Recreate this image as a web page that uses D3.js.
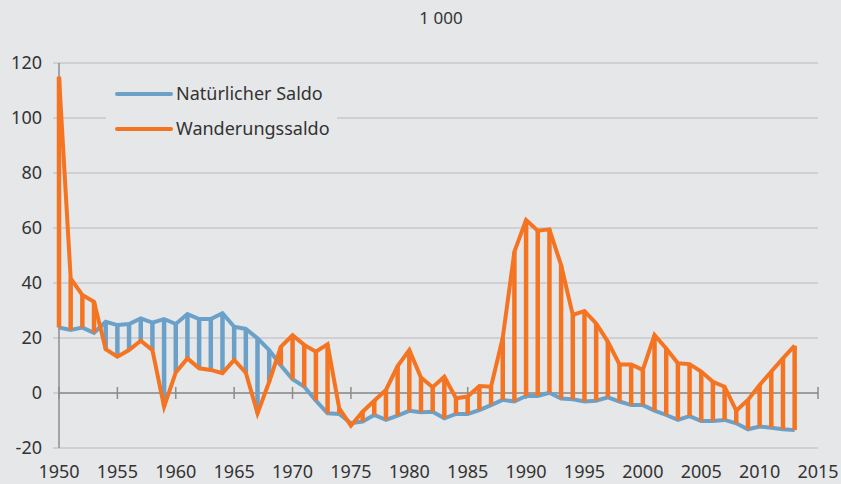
<!DOCTYPE html>
<html>
<head>
<meta charset="utf-8">
<script src="https://cdn.jsdelivr.net/npm/d3@7"></script>
<style>
  body { margin: 0; background: #e6e7e9; }
  svg { display: block; font-family: "Noto Sans", "Open Sans", sans-serif; }
</style>
</head>
<body>
<div id="chart"></div>
<script>
// values in 1000, one entry per year starting 1950
var startYear = 1950;
var natural = [23.8, 22.9, 23.8, 21.9, 25.9, 24.7, 25.1, 27.1, 25.6, 26.9,
               25.1, 28.7, 26.9, 26.9, 29.0, 24.1, 23.3, 19.9, 15.6, 10.0,
               5.0, 2.3, -2.8, -7.4, -7.6, -11.0, -10.4, -8.0, -9.8, -8.2,
               -6.5, -7.0, -6.8, -9.2, -7.6, -7.6, -6.2, -4.4, -2.5, -3.1,
               -1.1, -1.1, 0.1, -2.0, -2.3, -3.1, -2.8, -1.6, -3.1, -4.4,
               -4.4, -6.4, -8.0, -9.8, -8.4, -10.2, -10.2, -9.8, -11.0, -13.2,
               -12.2, -12.6, -13.2, -13.5];
var migration = [115, 41.7, 35.6, 33.2, 15.9, 13.2, 15.6, 19.0, 15.6, -5.0,
                 7.5, 12.6, 9.0, 8.4, 7.2, 12.0, 7.4, -7.4, 4.1, 16.8,
                 21.0, 17.5, 15.0, 17.7, -5.6, -11.9, -6.8, -2.8, 1.1, 9.8,
                 15.6, 5.6, 2.1, 5.9, -1.9, -1.3, 2.5, 2.3, 20.0, 51.4,
                 62.9, 59.0, 59.5, 46.5, 28.4, 29.8, 25.3, 18.7, 10.4, 10.4,
                 8.4, 21.1, 16.2, 10.8, 10.5, 7.8, 4.1, 2.3, -6.4, -2.5,
                 2.9, 7.8, 12.6, 17.2];
var yTicks = [-20, 0, 20, 40, 60, 80, 100, 120];
var xTicks = [1950, 1955, 1960, 1965, 1970, 1975, 1980, 1985, 1990, 1995, 2000, 2005, 2010, 2015];
var seriesNames = ["Natürlicher Saldo", "Wanderungssaldo"];
var unitLabel = "1 000";

var years = natural.map(function(d, i) { return startYear + i; });
var blue = "#6ba1c9", orange = "#f47421";

var W = 841, H = 484;
var margin = {top: 63, right: 23, bottom: 36, left: 59};

var svg = d3.select("#chart").append("svg")
    .attr("width", W).attr("height", H);

var x = d3.scaleLinear().domain([1950, 2015]).range([margin.left, W - margin.right]);
var y = d3.scaleLinear().domain([-20, 120]).range([H - margin.bottom, margin.top]);

// gridlines
svg.append("g").selectAll("line").data(yTicks).enter().append("line")
    .attr("x1", margin.left - 6).attr("x2", W - margin.right)
    .attr("y1", function(d) { return y(d); }).attr("y2", function(d) { return y(d); })
    .attr("stroke", "#c8c9cc").attr("stroke-width", 1.5);

// y labels
svg.append("g").selectAll("text").data(yTicks).enter().append("text")
    .attr("x", 42).attr("y", function(d) { return y(d); })
    .attr("dy", "0.35em").attr("text-anchor", "end")
    .attr("font-size", 18).attr("fill", "#333")
    .text(function(d) { return d; });

// y axis line
svg.append("line")
    .attr("x1", margin.left).attr("x2", margin.left)
    .attr("y1", y(120)).attr("y2", y(-20))
    .attr("stroke", "#8c8c8c").attr("stroke-width", 1.5);

// zero axis with crossing ticks
svg.append("line")
    .attr("x1", margin.left).attr("x2", W - margin.right)
    .attr("y1", y(0)).attr("y2", y(0))
    .attr("stroke", "#8c8c8c").attr("stroke-width", 1.5);
svg.append("g").selectAll("line").data(xTicks).enter().append("line")
    .attr("x1", function(d) { return x(d); }).attr("x2", function(d) { return x(d); })
    .attr("y1", y(0) - 6).attr("y2", y(0) + 6)
    .attr("stroke", "#8c8c8c").attr("stroke-width", 1.5);

// x labels
svg.append("g").selectAll("text").data(xTicks).enter().append("text")
    .attr("x", function(d) { return x(d); }).attr("y", 478)
    .attr("text-anchor", "middle")
    .attr("font-size", 18).attr("fill", "#333")
    .text(function(d) { return d; });

// unit label
svg.append("text").attr("x", 441).attr("y", 24)
    .attr("text-anchor", "middle").attr("font-size", 17).attr("fill", "#333")
    .text(unitLabel);

var line = d3.line()
    .x(function(d, i) { return x(years[i]); })
    .y(function(d) { return y(d); });

svg.append("path").datum(natural)
    .attr("d", line).attr("fill", "none")
    .attr("stroke", blue).attr("stroke-width", 4);

// vertical bars between the two series
svg.append("g").selectAll("line").data(years).enter().append("line")
    .attr("x1", function(d) { return x(d); }).attr("x2", function(d) { return x(d); })
    .attr("y1", function(d, i) { return y(natural[i]); })
    .attr("y2", function(d, i) { return y(migration[i]); })
    .attr("stroke", function(d, i) { return migration[i] > natural[i] ? orange : blue; })
    .attr("stroke-width", 4.5);

svg.append("path").datum(migration)
    .attr("d", line).attr("fill", "none")
    .attr("stroke", orange).attr("stroke-width", 4);

// legend
var legend = svg.append("g");
legend.append("rect").attr("x", 106).attr("y", 75).attr("width", 231).attr("height", 72)
    .attr("fill", "#e6e7e9");
[blue, orange].forEach(function(c, i) {
  var ly = 94 + i * 35;
  legend.append("line").attr("x1", 117).attr("x2", 171)
      .attr("y1", ly).attr("y2", ly)
      .attr("stroke", c).attr("stroke-width", 4).attr("stroke-linecap", "round");
  legend.append("text").attr("x", 176).attr("y", ly).attr("dy", "0.35em")
      .attr("font-size", 18).attr("fill", "#333")
      .text(seriesNames[i]);
});
</script>
</body>
</html>
